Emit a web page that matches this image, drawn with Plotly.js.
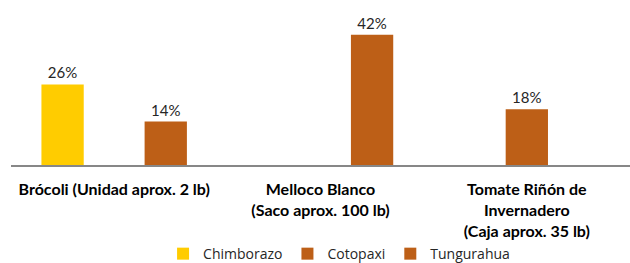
<!DOCTYPE html>
<html>
<head>
<meta charset="utf-8">
<script src="https://cdn.plot.ly/plotly-3.0.1.min.js"></script>
<style>html,body{margin:0;padding:0;background:#fff;}#chart{width:630px;height:263px;}</style>
</head>
<body>
<div id="chart"></div>
<script>
var categories = ["Brócoli (Unidad aprox. 2 lb)", "Melloco Blanco<br>(Saco aprox. 100 lb)", "Tomate Riñón de<br>Invernadero<br>(Caja aprox. 35 lb)"];
var seriesNames = ["Chimborazo", "Cotopaxi", "Tungurahua"];
var chimborazo = [26, null, null];
var cotopaxi = [null, null, 18];
var tungurahua = [14, 42, null];
var colors = ["#FFCC00", "#BD5F17", "#BD5F17"];

var values = [chimborazo, cotopaxi, tungurahua];
var traces = values.map(function (v, i) {
  return {
    type: "bar",
    name: seriesNames[i],
    x: categories,
    y: v,
    marker: {color: colors[i]},
    text: v.map(function (d) { return d === null ? "" : d + "%"; }),
    textposition: "outside",
    cliponaxis: false,
    textfont: {family: "Lato, sans-serif", size: 15, color: "#262626"},
    hoverinfo: "skip"
  };
});

var layout = {
  width: 630, height: 263,
  margin: {l: 11, r: 0, t: 10, b: 98},
  paper_bgcolor: "#fff", plot_bgcolor: "#fff",
  barmode: "group",
  bargap: 0.25,
  bargroupgap: 0.18,
  showlegend: true,
  legend: {orientation: "h", x: 0.53, xanchor: "center", yref: "container", y: 0.034, yanchor: "middle",
           itemwidth: 30, tracegroupgap: 0, bgcolor: "rgba(0,0,0,0)",
           font: {family: "Open Sans, sans-serif", size: 14, color: "#262626"}, traceorder: "normal"},
  xaxis: {
    automargin: false,
    showline: true, linecolor: "#878787", linewidth: 2,
    ticks: "", showgrid: false, zeroline: false,
    ticklabelstandoff: 9,
    tickfont: {family: "Lato, sans-serif", size: 16, color: "#000", weight: "bold"}
  },
  yaxis: {automargin: false, range: [0, 50], visible: false, showgrid: false, zeroline: false}
};

Plotly.newPlot("chart", traces, layout, {displayModeBar: false, staticPlot: true});
</script>
</body>
</html>
